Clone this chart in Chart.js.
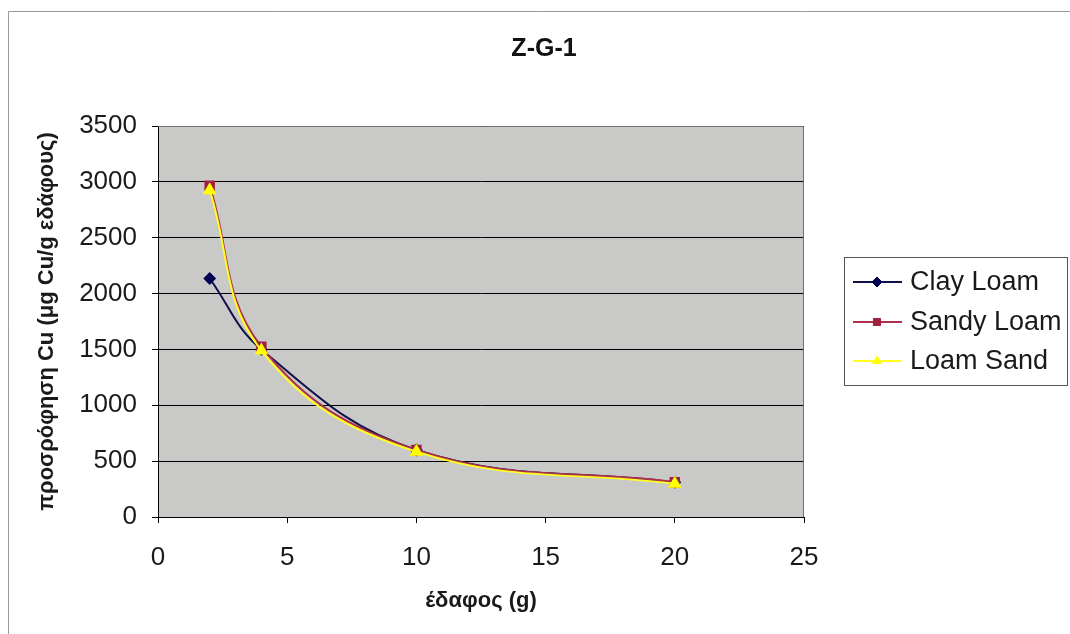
<!DOCTYPE html>
<html lang="el">
<head>
<meta charset="UTF-8">
<title>Z-G-1</title>
<style>
  html, body { margin: 0; padding: 0; background: #fff; }
  #wrap { width: 1070px; height: 634px; }
</style>
</head>
<body>
<div id="wrap"><canvas id="chart" width="1070" height="634"></canvas></div>
<script src="https://cdn.jsdelivr.net/npm/chart.js"></script>
<script>
  // soil mass (g)
  const soilMass = [2, 4, 10, 20];
  const seriesNames = ['Clay Loam', 'Sandy Loam', 'Loam Sand'];
  const clayLoam = [2135, 1500, 600, 310];
  const sandyLoam = [2965, 1525, 600, 312];
  const loamSand = [2925, 1490, 585, 298];
  const yTicks = [0, 500, 1000, 1500, 2000, 2500, 3000, 3500];
  const xTicks = [0, 5, 10, 15, 20, 25];

  const colors = ['#10104a', '#b0304c', '#ffff20'];
  const pointColors = ['#000050', '#a02040', '#ffff00'];
  const shapes = ['rectRot', 'rect', 'triangle'];
  const allSeries = [clayLoam, sandyLoam, loamSand];

  const FONT = '"Liberation Sans", Arial, sans-serif';

  function toPoints(vals) {
    return soilMass.map(function (x, i) { return { x: x, y: vals[i] }; });
  }

  const datasets = allSeries.map(function (vals, i) {
    return {
      label: seriesNames[i],
      data: toPoints(vals),
      borderColor: colors[i],
      backgroundColor: pointColors[i],
      pointBorderColor: pointColors[i],
      pointStyle: shapes[i],
      pointRadius: i === 0 ? 5 : 6,
      borderWidth: 2,
      tension: 0.4,
      order: 2 - i
    };
  });

  // grey plot area, outer frame, title and Excel-like legend
  const decor = {
    id: 'decor',
    beforeDraw(chart) {
      const c = chart.ctx, a = chart.chartArea;
      c.save();
      c.fillStyle = '#c9c9c7';
      c.fillRect(a.left, a.top, a.right - a.left, a.bottom - a.top);
      c.strokeStyle = '#9a9a9a';
      c.lineWidth = 1;
      c.beginPath();
      c.moveTo(8.5, 640); c.lineTo(8.5, 11.5); c.lineTo(1075, 11.5);
      c.stroke();
      c.restore();
    },
    afterDraw(chart) {
      const c = chart.ctx, a = chart.chartArea;
      c.save();
      c.strokeStyle = '#707070';
      c.lineWidth = 1;
      c.beginPath();
      c.moveTo(a.left, a.top + 0.5); c.lineTo(a.right - 0.5, a.top + 0.5); c.lineTo(a.right - 0.5, a.bottom);
      c.stroke();

      c.fillStyle = '#111';
      c.font = 'bold 25px ' + FONT;
      c.textAlign = 'center';
      c.textBaseline = 'middle';
      c.fillText('Z-G-1', 544, 49);

      // legend
      c.strokeStyle = '#555';
      c.lineWidth = 1;
      c.strokeRect(844.5, 257.5, 223, 128);
      c.textAlign = 'left';
      c.font = '27px ' + FONT;
      const rows = [282, 322, 361];
      seriesNames.forEach(function (name, i) {
        const y = rows[i];
        c.strokeStyle = colors[i];
        c.lineWidth = 2;
        c.beginPath(); c.moveTo(853, y); c.lineTo(902, y); c.stroke();
        c.fillStyle = pointColors[i];
        c.strokeStyle = pointColors[i];
        c.lineWidth = 1;
        Chart.helpers.drawPoint(c, { pointStyle: shapes[i], radius: 5, borderWidth: 1 }, 877, y);
        c.fillStyle = '#1a1a1a';
        c.fillText(name, 910, y + 1);
      });
      c.restore();
    }
  };

  new Chart(document.getElementById('chart'), {
    type: 'line',
    data: { datasets: datasets },
    plugins: [decor],
    options: {
      responsive: false,
      animation: false,
      layout: { padding: { left: 30, top: 126, right: 266, bottom: 16 } },
      plugins: {
        legend: { display: false },
        tooltip: { enabled: false },
        title: { display: false }
      },
      scales: {
        x: {
          type: 'linear',
          min: 0, max: 25,
          afterFit(s) { s.height = 101; },
          afterBuildTicks(s) { s.ticks = xTicks.map(function (v) { return { value: v }; }); },
          grid: { drawOnChartArea: false, color: '#000', tickLength: 6 },
          border: { color: '#000', width: 1 },
          ticks: {
            color: '#1a1a1a', font: { family: FONT, size: 26 }, padding: 19,
            callback: function (v) { return String(v); }
          },
          title: {
            display: true, text: 'έδαφος (g)', color: '#1a1a1a',
            font: { family: FONT, size: 22, weight: 'bold' }
          }
        },
        y: {
          min: 0, max: 3500,
          afterFit(s) { s.width = 128; },
          afterBuildTicks(s) { s.ticks = yTicks.map(function (v) { return { value: v }; }); },
          grid: { color: '#000', tickLength: 6 },
          border: { color: '#000', width: 1 },
          ticks: {
            color: '#1a1a1a', font: { family: FONT, size: 26 }, padding: 15,
            callback: function (v) { return String(v); }
          },
          title: {
            display: true, text: 'προσρόφηση Cu (μg Cu/g εδάφους)', color: '#1a1a1a',
            font: { family: FONT, size: 22, weight: 'bold' }
          }
        }
      }
    }
  });
</script>
</body>
</html>
